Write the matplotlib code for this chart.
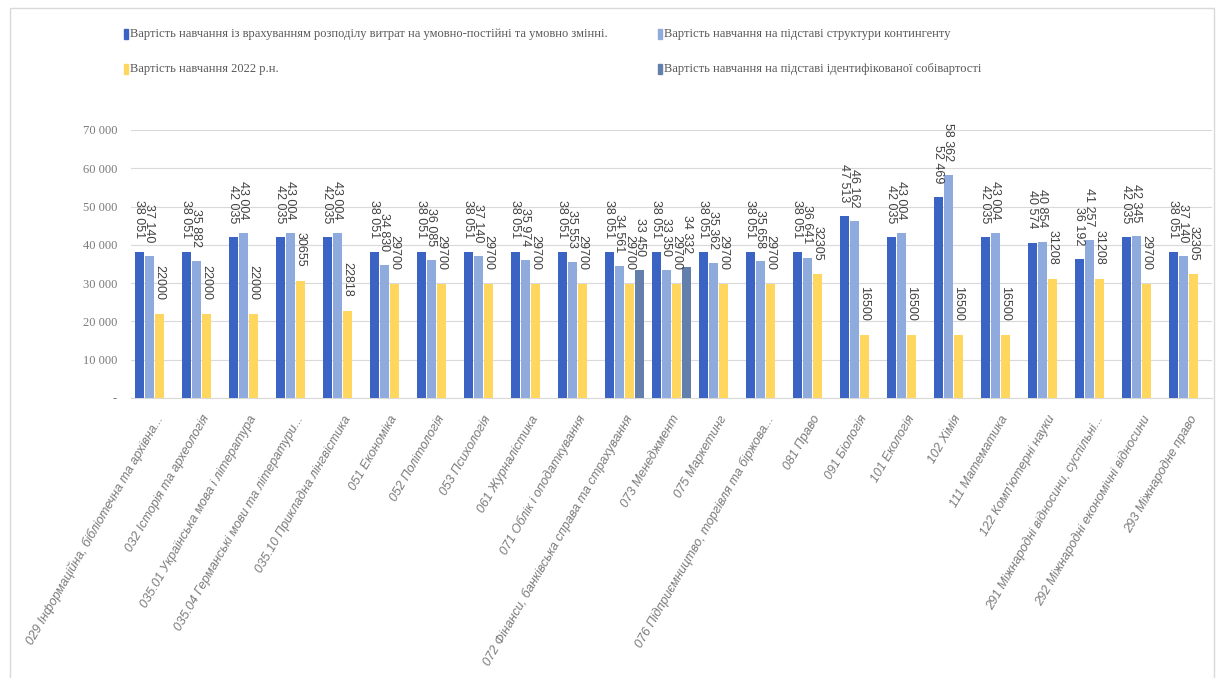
import matplotlib
matplotlib.use("Agg")
import matplotlib.pyplot as plt
import numpy as np
from matplotlib.patches import Rectangle

categories = [
    "029 Інформаційна, бібліотечна та архівна...",
    "032 Історія та археологія",
    "035.01 Українська мова і література",
    "035.04 Германські мови та літератури...",
    "035.10 Прикладна лінгвістика",
    "051 Економіка",
    "052 Політологія",
    "053 Психологія",
    "061 Журналістика",
    "071 Облік і оподаткування",
    "072 Фінанси, банківська справа та страхування",
    "073 Менеджмент",
    "075 Маркетинг",
    "076 Підприємництво, торгівля та біржова...",
    "081 Право",
    "091 Біологія",
    "101 Екологія",
    "102 Хімія",
    "111 Математика",
    "122 Комп'ютерні науки",
    "291 Міжнародні відносини, суспільні...",
    "292 Міжнародні економічні відносини",
    "293 Міжнародне право",
]

series_names = [
    "Вартість навчання із врахуванням розподілу витрат на умовно-постійні та умовно змінні.",
    "Вартість навчання на підставі структури контингенту",
    "Вартість навчання 2022 р.н.",
    "Вартість навчання на підставі ідентифікованої собівартості",
]

s1_values = [38051, 38051, 42035, 42035, 42035, 38051, 38051, 38051, 38051, 38051,
             38051, 38051, 38051, 38051, 38051, 47513, 42035, 52469, 42035, 40574,
             36192, 42035, 38051]
s2_values = [37140, 35882, 43004, 43004, 43004, 34830, 36085, 37140, 35974, 35553,
             34561, 33350, 35362, 35658, 36641, 46162, 43004, 58362, 43004, 40854,
             41257, 42345, 37140]
s3_values = [22000, 22000, 22000, 30655, 22818, 29700, 29700, 29700, 29700, 29700,
             29700, 29700, 29700, 29700, 32305, 16500, 16500, 16500, 16500, 31208,
             31208, 29700, 32305]
s4_values = [None, None, None, None, None, None, None, None, None, None,
             33450, 34332, None, None, None, None, None, None, None, None,
             None, None, None]

y_ticks = [0, 10000, 20000, 30000, 40000, 50000, 60000, 70000]
y_tick_labels = ["-", "10 000", "20 000", "30 000", "40 000", "50 000", "60 000", "70 000"]

colors = ["#3B63C4", "#8FAADC", "#FFD75E", "#6380AD"]
text_gray = "#595959"
tick_gray = "#7A7A7A"

W, H = 1224, 678
fig = plt.figure(figsize=(W / 100, H / 100), dpi=100)
fig.patch.set_facecolor("white")

# chart frame
fig.patches.append(Rectangle((10 / W, -0.01), 1204 / W, 1.01 - 8 / H,
                             transform=fig.transFigure, fill=False,
                             edgecolor="#D9D9D9", linewidth=1.0))

ax = fig.add_axes([131 / W, 1 - 398 / H, (1212 - 131) / W, (398 - 130) / H])
x = np.arange(len(categories))
slot = 0.2128
bw = 0.19
all_series = [s1_values, s2_values, s3_values, s4_values]
for k, vals in enumerate(all_series):
    arr = np.array([np.nan if v is None else v for v in vals], dtype=float)
    pos = x + (k - 1.5) * slot
    ax.bar(pos, np.nan_to_num(arr), width=bw, color=colors[k], zorder=3)
    for xi, v in zip(pos, vals):
        if v is None:
            continue
        if k == 2:
            lab = f"{v}"
        else:
            lab = f"{v:,}".replace(",", " ")
        ax.annotate(lab, (xi, v), xytext=(0, 10), textcoords="offset points",
                    rotation=-90, ha="center", va="bottom", fontsize=9,
                    family="Liberation Sans", color="#404040",
                    annotation_clip=False, zorder=4)

ax.set_xlim(-0.5, len(categories) - 0.5)
ax.set_ylim(0, 70000)
ax.set_yticks(y_ticks)
ax.set_yticklabels(y_tick_labels, family="Liberation Serif", fontsize=9, color=tick_gray)
ax.grid(axis="y", color="#D9D9D9", linewidth=0.8, zorder=0)
ax.set_axisbelow(True)
ax.set_xticks(x)
ax.set_xticklabels(categories, rotation=60, ha="right", rotation_mode="anchor",
                   fontsize=9.1, style="italic", family="Liberation Sans", color=tick_gray)
ax.tick_params(axis="both", length=0)
ax.tick_params(axis="y", pad=10)
ax.tick_params(axis="x", pad=11)
for sp in ["top", "right", "left"]:
    ax.spines[sp].set_visible(False)
ax.spines["bottom"].set_color("#D9D9D9")
ax.patch.set_alpha(0)

# legend (manual, two rows x two columns)
legend_pos = [(124, 34), (658, 34), (124, 69), (658, 69)]
for k, (lx, ly) in enumerate(legend_pos):
    fig.patches.append(Rectangle((lx / W, 1 - (ly + 5) / H), 4 / W, 10 / H,
                                 transform=fig.transFigure, color=colors[k]))
    fig.text((lx + 6) / W, 1 - ly / H, series_names[k], ha="left", va="center",
             fontsize=9, family="Liberation Serif", color=text_gray)

fig.savefig("out.png", dpi=100, facecolor="white")
